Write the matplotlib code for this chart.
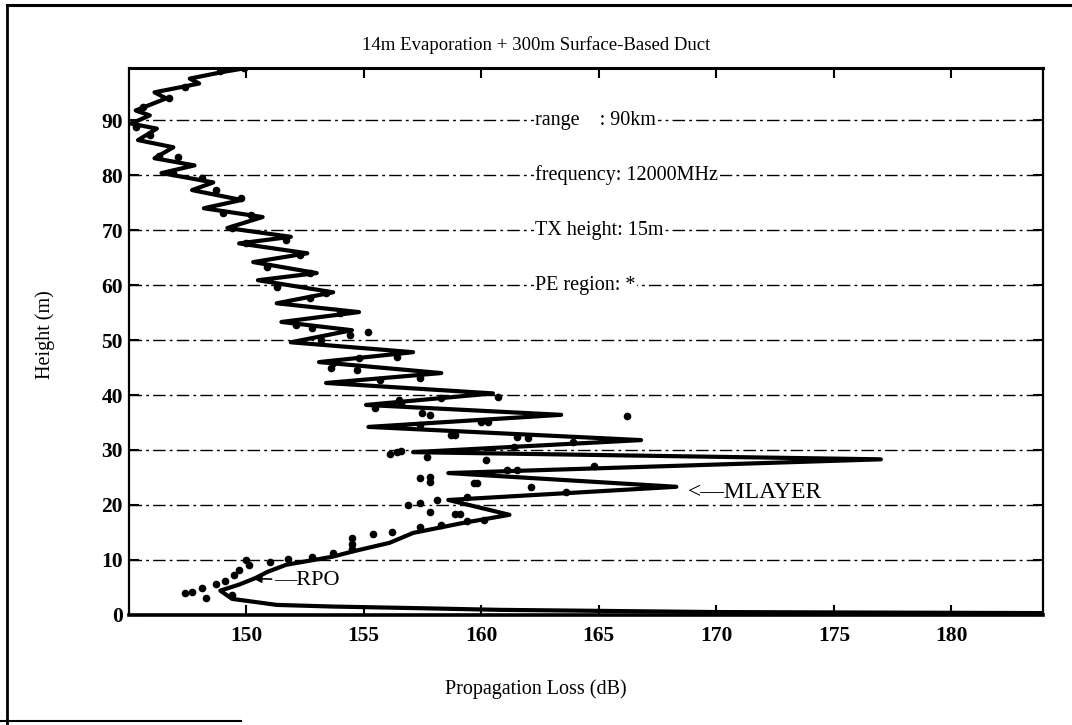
import matplotlib
matplotlib.use("Agg")
import matplotlib.pyplot as plt
from matplotlib.lines import Line2D

plt.rcParams['font.family'] = ['Liberation Serif', 'DejaVu Serif']

# Solid curve: propagation loss (dB) vs height (m), traced top to bottom
curve_loss = [150.1, 149.0, 147.6, 148.0, 146.1, 146.6, 145.3, 145.9, 145.1, 146.2,
              145.4, 146.9, 146.1, 147.8, 146.4, 148.6, 147.7, 149.8, 148.2, 150.7,
              149.2, 151.9, 149.7, 152.6, 150.3, 153.0, 150.5, 153.7, 151.3, 154.8,
              151.5, 154.5, 151.9, 157.1, 153.1, 158.3, 153.4, 160.5, 155.1, 163.4,
              155.2, 166.8, 157.1, 177.0, 158.6, 168.3, 158.6, 161.2, 159.2, 157.1,
              156.1, 154.5, 153.7, 151.7, 150.9, 150.4, 149.7, 148.9, 149.4, 151.3,
              153.7, 157.4, 160.8, 170.0, 184.7]
curve_height = [99.6, 98.8, 97.6, 96.7, 95.1, 94.0, 91.8, 90.9, 89.4, 88.5,
                86.4, 85.1, 83.1, 81.8, 80.4, 78.7, 77.3, 75.5, 74.0, 72.4,
                70.4, 68.8, 67.6, 65.8, 64.2, 62.2, 60.9, 58.7, 56.7, 55.1,
                53.3, 51.8, 49.6, 47.8, 46.0, 44.0, 42.2, 40.3, 38.2, 36.4,
                34.2, 31.8, 29.6, 28.3, 25.8, 23.3, 20.9, 18.2, 16.7, 14.9,
                13.1, 11.5, 10.6, 9.1, 7.8, 6.7, 5.5, 4.4, 2.9, 1.8,
                1.5, 1.2, 0.9, 0.5, 0.3]

# PE region points (dots)
pe_loss = [148.9, 149.9, 147.4, 146.7, 145.6, 145.3, 145.9, 146.3, 147.1, 146.9,
           148.1, 148.7, 149.8, 149.0, 150.2, 149.4, 151.7, 150.0, 152.3, 150.9,
           152.7, 151.3, 153.4, 152.7, 154.0, 152.1, 152.8, 154.4, 153.7, 154.8,
           155.7, 155.5, 155.2, 153.2, 156.4, 153.6, 154.7, 157.4, 156.6, 157.8,
           158.3, 160.7, 157.4, 158.9, 160.3, 162.0, 160.2, 161.4, 157.7, 159.7,
           161.5, 156.4, 156.1, 156.5, 157.5, 160.0, 158.7, 161.5, 163.9, 164.8,
           161.1, 162.1, 163.6, 159.4, 166.2,
           147.4, 147.7, 148.1, 148.3, 148.7, 149.1, 149.5, 149.7, 150.1, 150.0,
           151.0, 151.8, 152.8, 153.7, 154.5, 154.5, 154.5, 155.4, 156.2, 157.4,
           158.3, 159.1, 159.4, 160.1, 156.9, 157.4, 157.8, 158.1, 157.4, 157.8,
           157.8, 159.8, 158.9, 156.6, 149.4]
pe_height = [98.9, 99.5, 96.0, 94.0, 92.4, 88.7, 87.3, 83.6, 83.3, 80.4,
             79.5, 77.3, 75.8, 73.1, 72.7, 70.4, 68.2, 67.6, 65.5, 63.3,
             62.2, 59.6, 58.5, 57.6, 54.9, 52.7, 52.2, 50.9, 45.8, 46.7,
             42.7, 37.6, 51.5, 50.0, 46.9, 44.9, 44.5, 43.1, 38.5, 36.4,
             39.4, 39.7, 34.5, 32.7, 35.1, 32.2, 28.2, 30.5, 28.7, 24.0,
             26.4, 29.6, 29.2, 39.1, 36.7, 35.1, 32.7, 32.4, 31.5, 27.0,
             26.4, 23.3, 22.4, 21.5, 36.1,
             4.0, 4.2, 4.9, 3.1, 5.6, 6.2, 7.3, 8.2, 9.1, 10.0,
             9.6, 10.2, 10.5, 11.2, 12.8, 14.0, 11.9, 14.7, 15.1, 16.0,
             16.4, 18.4, 17.0, 17.3, 20.0, 20.4, 18.7, 20.9, 24.9, 25.1,
             24.2, 24.0, 18.4, 29.8, 3.6]

x_ticks = [150, 155, 160, 165, 170, 175, 180]
y_ticks = [0, 10, 20, 30, 40, 50, 60, 70, 80, 90]

info_lines = ["range    : 90km", "frequency: 12000MHz", "TX height: 15m", "PE region: *"]
info_heights = [90, 80, 70, 60]

fig = plt.figure(figsize=(10.72, 7.25), dpi=100)
ax = fig.add_axes([0.120, 0.152, 0.853, 0.754])

ax.plot(curve_loss, curve_height, color='black', lw=3.0, solid_joinstyle='round',
        solid_capstyle='round', zorder=3)
ax.plot(pe_loss, pe_height, linestyle='none', marker='o', ms=4.5, color='black', zorder=4)

ax.set_xlim(145.0, 183.9)
ax.set_ylim(0, 99.5)
ax.set_xticks(x_ticks)
ax.set_yticks(y_ticks)
ax.set_xticklabels([str(t) for t in x_ticks], fontsize=15.5, fontweight='bold')
ax.set_yticklabels([str(t) for t in y_ticks], fontsize=15.5, fontweight='bold')
ax.tick_params(axis='both', direction='in', length=7, width=1.5, top=True, right=True, pad=8)
ax.tick_params(axis='y', pad=4)

for yv in y_ticks[1:]:
    ax.axhline(yv, color='black', lw=1.0, linestyle=(0, (9, 3, 2, 3)), zorder=1)

for sp in ax.spines.values():
    sp.set_linewidth(1.6)
ax.spines['bottom'].set_linewidth(2.6)
ax.spines['top'].set_linewidth(2.2)

for txt, hv in zip(info_lines, info_heights):
    ax.text(162.3, hv, txt, fontsize=14.5, va='center', ha='left', zorder=5,
            bbox=dict(facecolor='white', edgecolor='none', pad=1.0))

ax.text(168.8, 22.2, "<\u2014MLAYER", fontsize=17, va='center', ha='left', zorder=5,
        bbox=dict(facecolor='white', edgecolor='none', pad=0.5))
ax.annotate("\u2014RPO", xy=(150.3, 6.6), xytext=(151.2, 6.3), fontsize=16,
            va='center', ha='left', zorder=5,
            arrowprops=dict(arrowstyle='-|>', lw=1.2, color='black', shrinkA=0, shrinkB=0,
                            mutation_scale=12))

fig.text(0.50, 0.938, "14m Evaporation + 300m Surface-Based Duct", fontsize=13.5,
         ha='center', va='center')
fig.text(0.50, 0.050, "Propagation Loss (dB)", fontsize=14.5, ha='center', va='center')
fig.text(0.042, 0.538, "Height (m)", fontsize=14.5, ha='center', va='center', rotation=90)

# scanned page frame lines
fig.add_artist(Line2D([0.0065, 0.0065], [0.0, 0.993], color='black', lw=2.0))
fig.add_artist(Line2D([0.0065, 1.0], [0.993, 0.993], color='black', lw=2.2))
fig.add_artist(Line2D([0.0, 0.225], [0.005, 0.005], color='black', lw=1.5))

fig.savefig("out.png", dpi=100)
